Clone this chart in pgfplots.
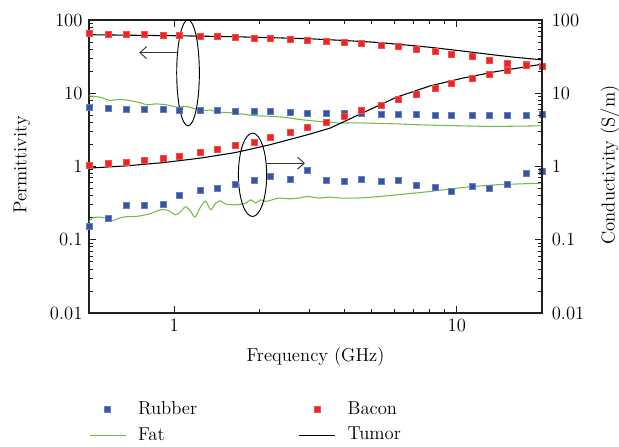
\documentclass[border=0pt]{standalone}
\usepackage{fontspec}
\usepackage{pgfplots}
\pgfplotsset{compat=1.18}
\usetikzlibrary{arrows.meta}
\definecolor{rubberblue}{RGB}{54,84,165}
\definecolor{baconred}{RGB}{237,35,36}
\definecolor{fatgreen}{RGB}{112,190,72}
\definecolor{txt}{RGB}{35,31,32}
\begin{document}
\fontsize{14}{16.8}\selectfont
\begin{tikzpicture}
\useasboundingbox (-66.75pt,-100.5pt) rectangle (397.5pt,234.75pt);
\begin{axis}[
  scale only axis, width=339.75pt, height=219.75pt,
  xmode=log, ymode=log, xmin=0.5, xmax=20, ymin=0.01, ymax=100,
  log ticks with fixed point, /pgf/number format/assume math mode=true,
  xtick={1,10}, ytick={0.01,0.1,1,10,100},
  tick align=inside, axis line style={line width=0.8pt, color=txt},
  major tick length=5pt, minor tick length=3pt,
  every tick/.style={color=txt, line width=0.6pt},
  xlabel={Frequency (GHz)}, ylabel={Permittivity},
  xlabel style={at={(axis description cs:0.5,-0.150)}, anchor=center},
  ylabel style={at={(axis description cs:-0.148,0.505)}, anchor=center},
  clip=false,
  legend image code/.code={\draw[mark repeat=2,mark phase=2,#1] plot coordinates {(0pt,0pt) (13.5pt,0pt) (27pt,0pt)};},
  legend style={draw=none, fill=none, inner sep=0pt, outer sep=0pt, legend columns=2,
    at={(axis description cs:0,-0.292)}, anchor=north west,
    /tikz/every odd column/.append style={column sep=7pt},
    /tikz/every even column/.append style={column sep=74pt}, row sep=3.75pt,
    font=\fontsize{14}{16.8}\selectfont},
  legend cell align=left,
]
% Rubber permittivity
\addplot[only marks, mark=square*, mark size=2.25pt, color=rubberblue, mark options={draw=rubberblue!75!white, fill=rubberblue}] coordinates {
(0.5,6.46)(0.587,6.26)(0.676,6.13)(0.787,6.13)(0.916,6.13)(1.043,5.94)(1.235,5.94)(1.416,5.81)(1.647,5.70)(1.917,5.70)(2.18,5.70)(2.57,5.52)(2.96,5.40)(3.44,5.40)(4.0,5.35)(4.58,5.35)(5.39,5.24)(6.21,5.24)(7.21,5.2)(8.39,5.07)(9.59,5.0)(11.3,4.96)(13.0,4.96)(15.1,4.96)(17.6,5.03)(20,5.18)};
\addlegendentry{Rubber}
% Bacon permittivity
\addplot[only marks, mark=square*, mark size=2.25pt, color=baconred, mark options={draw=baconred!80!white, fill=baconred}] coordinates {
(0.5,66)(0.587,64.6)(0.676,63.2)(0.787,63.2)(0.916,62.6)(1.043,62)(1.235,60.7)(1.416,59.4)(1.647,58.2)(1.917,57)(2.18,55.7)(2.57,54.7)(2.96,53.5)(3.44,51.4)(4.0,50.2)(4.58,48.2)(5.39,45.7)(6.21,43.4)(7.21,40.3)(8.39,37.9)(9.59,34.5)(11.3,31.7)(13.0,28.6)(15.1,25.7)(17.6,24.5)(20,23.2)};
\addlegendentry{Bacon}
% Fat permittivity
\addplot[color=fatgreen, line width=0.8pt] coordinates {
(0.5,9.2)(0.547,8.86)(0.593,7.95)(0.644,8.3)(0.698,7.95)(0.75,7.5)(0.80,6.95)(0.868,7.17)(0.942,6.95)(1.021,6.46)(1.108,6.6)(1.202,6.06)(1.29,5.81)(1.34,5.94)(1.416,5.52)(1.55,5.45)(1.665,5.35)(1.8,5.1)(1.96,4.92)(2.2,4.85)(2.43,4.72)(2.65,4.5)(2.86,4.33)(3.3,4.1)(3.86,3.91)(4.5,3.95)(5.2,3.88)(6.13,3.82)(7.2,3.72)(8.5,3.65)(10.5,3.59)(13,3.52)(16,3.55)(20,3.59)};
\addlegendentry{Fat}
% Tumor permittivity
\addplot[color=black, line width=0.8pt] coordinates {
(0.5,63)(0.7,62)(1.0,61)(1.5,59.5)(2,58)(3,55.5)(4,52.5)(5,50)(6,47.2)(8,42.5)(10,38.5)(13,34)(16,31)(20,28.6)};
\addlegendentry{Tumor}
% Rubber conductivity
\addplot[only marks, mark=square*, mark size=2.25pt, color=rubberblue, mark options={draw=rubberblue!75!white, fill=rubberblue}, forget plot] coordinates {
(0.5,0.155)(0.587,0.198)(0.676,0.30)(0.787,0.30)(0.916,0.307)(1.043,0.411)(1.235,0.471)(1.416,0.507)(1.647,0.575)(1.917,0.659)(2.18,0.747)(2.57,0.673)(2.96,0.90)(3.44,0.644)(4.0,0.624)(4.58,0.68)(5.39,0.632)(6.21,0.659)(7.21,0.563)(8.39,0.517)(9.59,0.466)(11.3,0.54)(13.0,0.507)(15.1,0.575)(17.6,0.81)(20,0.873)};
% Bacon conductivity
\addplot[only marks, mark=square*, mark size=2.25pt, color=baconred, mark options={draw=baconred!80!white, fill=baconred}, forget plot] coordinates {
(0.5,1.05)(0.587,1.11)(0.676,1.15)(0.787,1.21)(0.916,1.29)(1.043,1.40)(1.235,1.55)(1.416,1.73)(1.647,1.92)(1.917,2.15)(2.18,2.49)(2.57,2.91)(2.96,3.40)(3.44,4.07)(4.0,4.81)(4.58,5.81)(5.39,6.95)(6.21,8.3)(7.21,9.8)(8.39,11.7)(9.59,13.6)(11.3,15.9)(13.0,18.4)(15.1,20.4)(17.6,24.0)(20,23.0)};
% Fat conductivity
\addplot[color=fatgreen, line width=0.8pt, smooth, tension=0.5, forget plot] coordinates {
(0.5,0.1744)(0.5135,0.1977)(0.5424,0.2042)(0.5729,0.1977)(0.6046,0.1817)(0.6386,0.1977)(0.6745,0.206)(0.7316,0.208)(0.7719,0.2146)(0.8152,0.2243)(0.861,0.2434)(0.8964,0.2566)(0.946,0.2541)(1.0131,0.2193)(1.0554,0.2434)(1.0993,0.2819)(1.1451,0.2434)(1.186,0.2042)(1.2423,0.2845)(1.2939,0.3331)(1.3477,0.2566)(1.4037,0.3168)(1.462,0.3404)(1.5228,0.3069)(1.652,0.3003)(1.792,0.3168)(1.866,0.3513)(1.944,0.3168)(2.025,0.3513)(2.109,0.3331)(2.226,0.3513)(2.35,0.3707)(2.55,0.3625)(2.766,0.3707)(2.96,0.390)(3.256,0.3707)(3.56,0.382)(3.86,0.371)(4.43,0.371)(4.9,0.38)(5.36,0.39)(6.5,0.42)(8.04,0.456)(10.5,0.517)(13.8,0.563)(17,0.58)(20,0.593)};
% Tumor conductivity
\addplot[color=black, line width=0.8pt, forget plot] coordinates {
(0.5,0.95)(0.676,1.02)(0.916,1.13)(1.235,1.30)(1.647,1.55)(2.18,1.98)(2.96,2.71)(3.56,3.34)(4.67,5.45)(6.13,8.86)(8.04,12.6)(10.5,16.1)(13.8,19.8)(20,24.9)};
% annotations
\draw[line width=0.7pt, black] (axis cs:1.12,19.0) ellipse [x radius=8.5pt, y radius=39.75pt];
\draw[line width=0.7pt, black] (axis cs:1.894,0.77) ellipse [x radius=10.6pt, y radius=31.25pt];
\draw[line width=0.7pt, black!80, -{Straight Barb[length=5pt,width=9pt]}] (axis cs:1.023,35.9) -- (axis cs:0.753,35.9);
\draw[line width=0.7pt, black!80, -{Straight Barb[length=5pt,width=9pt]}] (axis cs:2.13,1.113) -- (axis cs:2.90,1.113);
\end{axis}
\begin{axis}[
  scale only axis, width=339.75pt, height=219.75pt,
  xmode=log, ymode=log, xmin=0.5, xmax=20, ymin=0.01, ymax=100,
  log ticks with fixed point, /pgf/number format/assume math mode=true,
  ytick={0.01,0.1,1,10,100},
  axis x line=none, axis y line*=right, tick align=inside,
  axis line style={line width=0.8pt, color=txt, -},
  major tick length=5pt, minor tick length=3pt,
  every tick/.style={color=txt, line width=0.6pt},
  yticklabel style={xshift=2.5pt},
  ylabel={Conductivity (S/m)},
  ylabel style={at={(axis description cs:1.150,0.505)}, anchor=center},
]
\end{axis}
\end{tikzpicture}
\end{document}
